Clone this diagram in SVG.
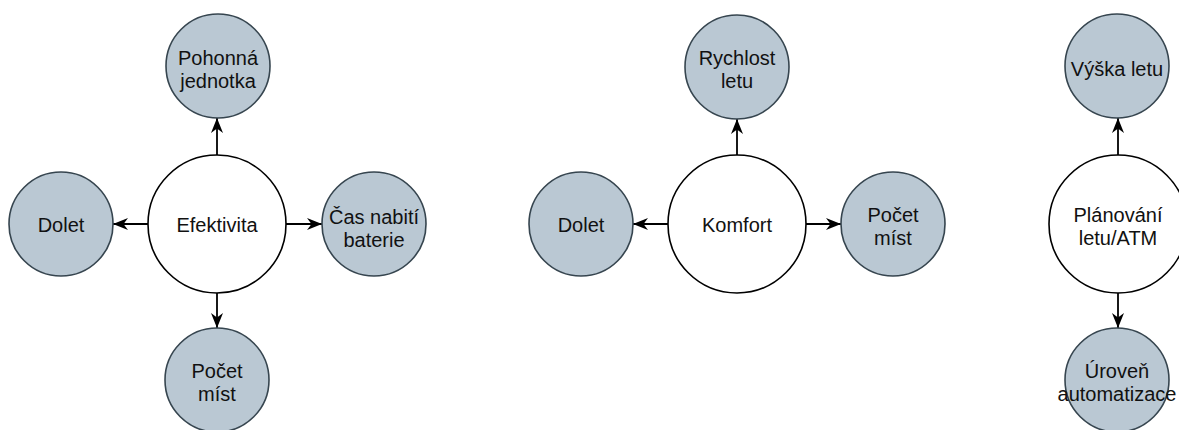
<svg xmlns="http://www.w3.org/2000/svg" width="1179" height="430" viewBox="0 0 1179 430">
<defs>
<style>
.leaf{fill:#bac8d3;stroke:#36454f;stroke-width:1.6}
.hub{fill:#ffffff;stroke:#000000;stroke-width:1.6}
.lbl{font-family:"Liberation Sans",Arial,sans-serif;font-size:20px;fill:#111111;text-anchor:middle}
.edge{stroke:#000000;stroke-width:1.8;fill:none;marker-end:url(#arr)}
</style>
<marker id="arr" markerUnits="userSpaceOnUse" markerWidth="16" markerHeight="16" viewBox="0 0 16 16" refX="15" refY="8" orient="auto">
<path d="M0,2 L15,8 L0,14 L4.5,8 Z" fill="#000000"/>
</marker>
</defs>
<rect width="1179" height="430" fill="#ffffff"/>
<g id="connectors">
<line class="edge" x1="217" y1="155" x2="217" y2="118"/>
<line class="edge" x1="148" y1="224" x2="113" y2="224"/>
<line class="edge" x1="286" y1="224" x2="322" y2="224"/>
<line class="edge" x1="217" y1="293" x2="217" y2="328"/>
<line class="edge" x1="737" y1="155" x2="737" y2="119"/>
<line class="edge" x1="668" y1="224" x2="633" y2="224"/>
<line class="edge" x1="806" y1="224" x2="841" y2="224"/>
<line class="edge" x1="1118" y1="155" x2="1118" y2="118"/>
<line class="edge" x1="1118" y1="293" x2="1118" y2="328"/>
</g>
<g id="efektivita"><circle class="hub" cx="217" cy="224" r="69"/><text class="lbl" x="217" y="232">Efektivita</text></g>
<g id="pohonna"><circle class="leaf" cx="218" cy="66" r="52"/><text class="lbl" x="218" y="65">Pohonná</text><text class="lbl" x="218" y="88">jednotka</text></g>
<g id="dolet1"><circle class="leaf" cx="61" cy="224" r="52"/><text class="lbl" x="61" y="232">Dolet</text></g>
<g id="cas"><circle class="leaf" cx="374" cy="224" r="52"/><text class="lbl" x="374" y="224">Čas nabití</text><text class="lbl" x="374" y="247">baterie</text></g>
<g id="pocet1"><circle class="leaf" cx="217" cy="380" r="52"/><text class="lbl" x="217" y="378">Počet</text><text class="lbl" x="217" y="401">míst</text></g>
<g id="komfort"><circle class="hub" cx="737" cy="224" r="69"/><text class="lbl" x="737" y="232">Komfort</text></g>
<g id="rychlost"><circle class="leaf" cx="737" cy="67" r="52"/><text class="lbl" x="737" y="65">Rychlost</text><text class="lbl" x="737" y="88">letu</text></g>
<g id="dolet2"><circle class="leaf" cx="581" cy="224" r="52"/><text class="lbl" x="581" y="232">Dolet</text></g>
<g id="pocet2"><circle class="leaf" cx="893" cy="224" r="52"/><text class="lbl" x="893" y="222">Počet</text><text class="lbl" x="893" y="245">míst</text></g>
<g id="planovani"><circle class="hub" cx="1118" cy="224" r="69"/><text class="lbl" x="1118" y="222">Plánování</text><text class="lbl" x="1118" y="245">letu/ATM</text></g>
<g id="vyska"><circle class="leaf" cx="1117" cy="66" r="52"/><text class="lbl" x="1117" y="76">Výška letu</text></g>
<g id="uroven"><circle class="leaf" cx="1117" cy="380" r="52"/><text class="lbl" x="1117" y="378">Úroveň</text><text class="lbl" x="1117" y="401">automatizace</text></g>
</svg>
